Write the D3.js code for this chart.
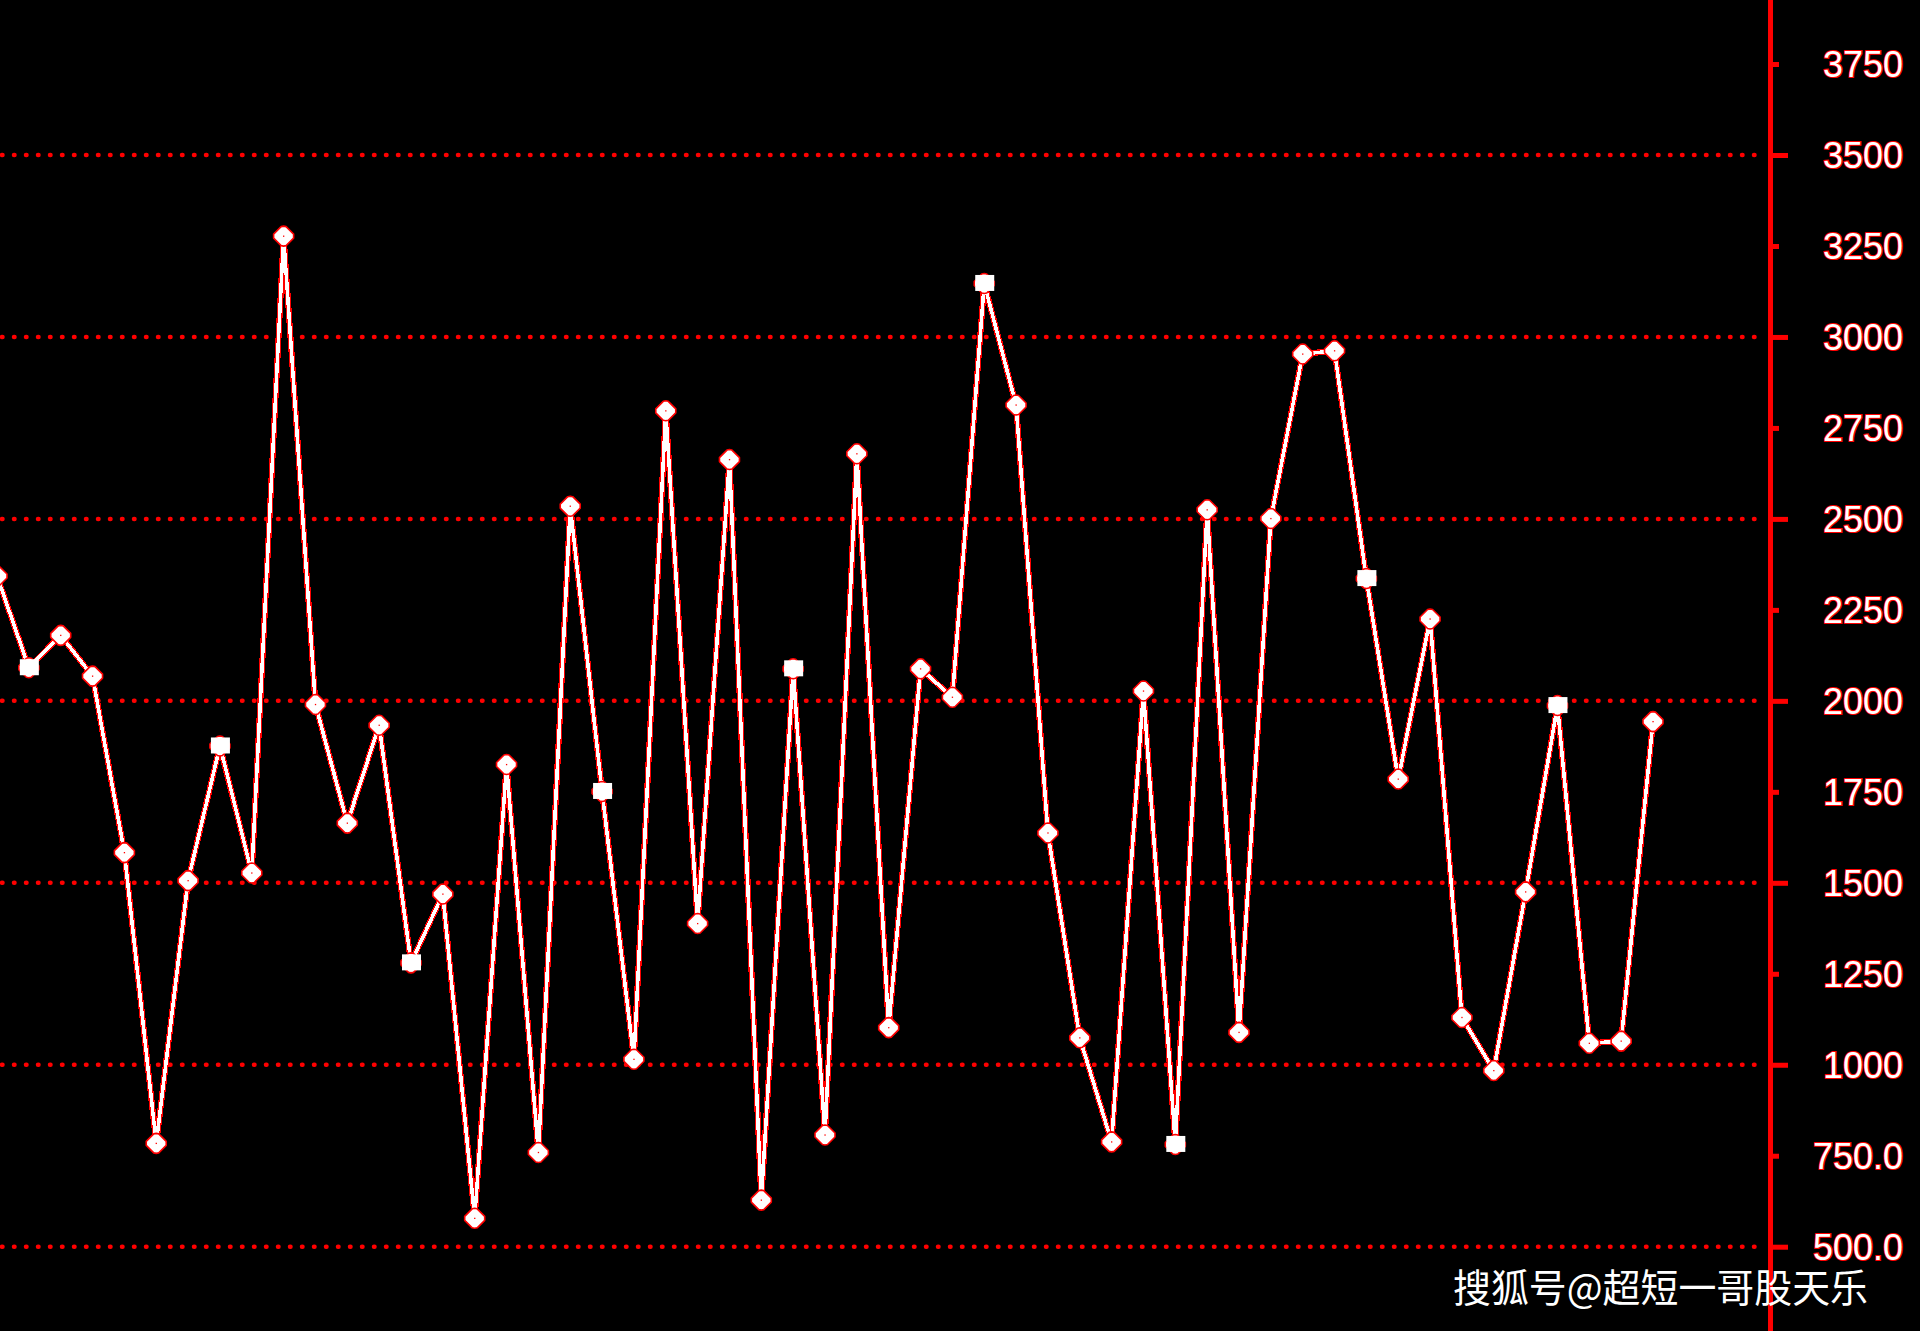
<!DOCTYPE html>
<html>
<head>
<meta charset="utf-8">
<script src="https://cdn.jsdelivr.net/npm/d3@7"></script>
<style>
html,body{margin:0;padding:0;background:#000;overflow:hidden;}
svg{display:block;}
</style>
</head>
<body>
<svg id="chart" width="1920" height="1331"></svg>
<script>
// ---- data ----
const values = [2343, 2091, 2180, 2068, 1583, 784, 1506, 1876, 1527, 3277,
                1990, 1664, 1933, 1280, 1469, 578, 1825, 759, 2535, 1751,
                1015, 2797, 1388, 2663, 628, 2088, 807, 2679, 1102, 2088,
                2010, 3147, 2813, 1637, 1074, 788, 2027, 781, 2525, 1089,
                2501, 2953, 2962, 2336, 1785, 2225, 1130, 984, 1475, 1987,
                1059, 1065, 1943];
const tickValues = [500, 750, 1000, 1250, 1500, 1750, 2000, 2250, 2500, 2750, 3000, 3250, 3500, 3750];
const tickLabels = ["500.0", "750.0", "1000", "1250", "1500", "1750", "2000", "2250", "2500", "2750", "3000", "3250", "3500", "3750"];
const majorTicks = [500, 1000, 1500, 2000, 2500, 3000, 3500];
const minorTicks = [750, 1250, 1750, 2250, 2750, 3250, 3750];
const watermark = "搜狐号@超短一哥股天乐";

// ---- layout ----
const W = 1920, H = 1331;
const axisX = 1770.5;
const svg = d3.select("#chart");
svg.append("rect").attr("width", W).attr("height", H).attr("fill", "#000");

const x = d3.scaleLinear().domain([0, values.length - 1]).range([-3, 1653]);
const y = d3.scaleLinear().domain([500, 3500]).range([1246.7, 155]);

// grid (dotted red)
svg.append("g").selectAll("line").data(majorTicks).join("line")
  .attr("x1", 2).attr("x2", 1762)
  .attr("y1", d => y(d)).attr("y2", d => y(d))
  .attr("stroke", "#ff0000").attr("stroke-width", 4.5)
  .attr("stroke-linecap", "round")
  .attr("stroke-dasharray", "0.5 11.5");

// axis line
svg.append("line").attr("x1", axisX).attr("x2", axisX).attr("y1", 0).attr("y2", H)
  .attr("stroke", "#ff0000").attr("stroke-width", 5);

// ticks via d3 axes
const majorAxis = d3.axisRight(y).tickValues(majorTicks).tickSize(15).tickSizeOuter(0).tickFormat("");
const minorAxis = d3.axisRight(y).tickValues(minorTicks).tickSize(6).tickSizeOuter(0).tickFormat("");
[majorAxis, minorAxis].forEach(ax => {
  const g = svg.append("g").attr("transform", `translate(${axisX + 2.5},0)`).call(ax);
  g.select(".domain").remove();
  g.selectAll(".tick line").attr("stroke", "#ff0000").attr("stroke-width", 5);
});

// tick labels
svg.append("g").selectAll("text").data(tickValues).join("text")
  .attr("x", 1903).attr("y", d => y(d) + 13)
  .attr("text-anchor", "end")
  .attr("font-family", "'Liberation Sans', Arial, sans-serif")
  .attr("font-size", 36)
  .attr("fill", "#ffffff")
  .attr("stroke", "#ff0000").attr("stroke-width", 2.2)
  .attr("paint-order", "stroke")
  .text((d, i) => tickLabels[i]);

// data line
const line = d3.line().x((d, i) => x(i)).y(d => y(d));
svg.append("path").datum(values).attr("d", line)
  .attr("fill", "none").attr("stroke", "#ff0000").attr("stroke-width", 6)
  .attr("shape-rendering", "crispEdges");
svg.append("path").datum(values).attr("d", line)
  .attr("fill", "none").attr("stroke", "#ffffff").attr("stroke-width", 3.5)
  .attr("shape-rendering", "crispEdges");

// markers
const diamond = "M0,-10 L2.5,-9.5 L10,-2 L10,2 L2.5,9.5 L0,10 L-2.5,9.5 L-10,2 L-10,-2 L-2.5,-9.5 Z";
const mk = svg.append("g").selectAll("g").data(values).join("g")
  .attr("transform", (d, i) => `translate(${x(i)},${y(d)})`);
mk.append("path").attr("d", diamond)
  .attr("fill", "#ffffff").attr("stroke", "#ff0000").attr("stroke-width", 1.6)
  .attr("stroke-linejoin", "round");
mk.filter((d, i) => i % 6 === 1).append("rect")
  .attr("x", -9).attr("y", -8.5).attr("width", 19).attr("height", 16)
  .attr("fill", "#ffffff");
mk.filter((d, i) => i % 6 !== 1).append("rect")
  .attr("x", -0.6).attr("y", -0.6).attr("width", 1.3).attr("height", 1.3)
  .attr("fill", "#ff0000");

// watermark
svg.append("text")
  .attr("x", 1453).attr("y", 1302)
  .attr("font-family", "'Noto Sans CJK SC', sans-serif")
  .attr("font-size", 39)
  .attr("textLength", 415).attr("lengthAdjust", "spacingAndGlyphs")
  .attr("fill", "#ffffff")
  .text(watermark);
</script>
</body>
</html>
